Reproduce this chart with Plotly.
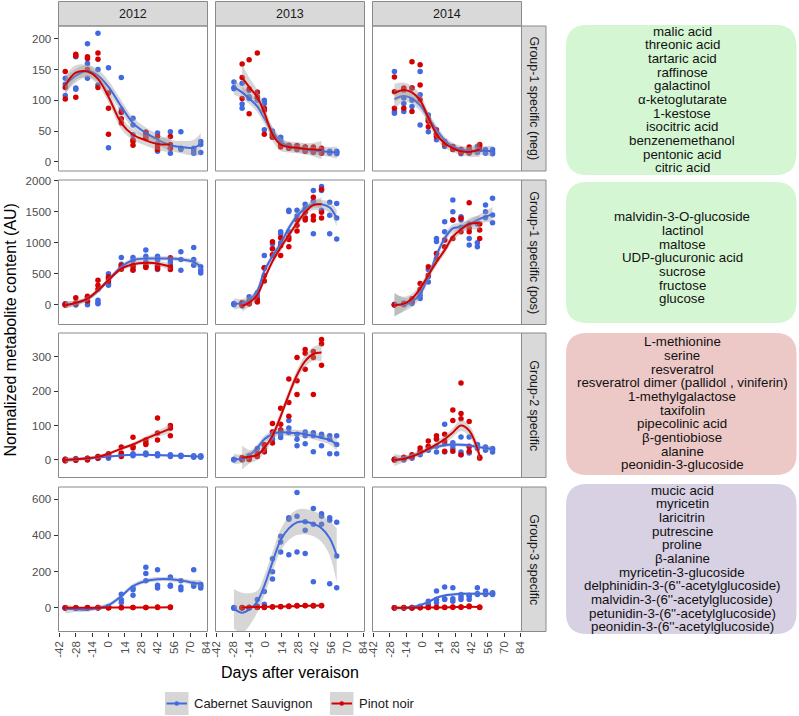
import plotly.graph_objects as go

W, H = 799, 716

# ---------------- data ----------------
years = ["2012", "2013", "2014"]
groups = ["Group-1 specific (neg)", "Group-1 specific (pos)", "Group-2 specific", "Group-3 specific"]
x_ticks = [-42, -28, -14, 0, 14, 28, 42, 56, 70, 84]
y_ticks = [[0, 50, 100, 150, 200], [0, 500, 1000, 1500, 2000], [0, 100, 200, 300], [0, 200, 400, 600]]
y_ranges = [[-15, 221], [-320, 2010], [-51, 369], [-130, 667]]

cs_days_2012 = [-37, -28, -18, -9, 0, 11, 21, 32, 42, 53, 62, 73, 79]
cs_days_2013 = [-27, -20, -14, -7, -1, 6, 13, 20, 27, 34, 41, 48, 55, 61]
cs_days_2014 = [-24, -16, -9, -2, 5, 12, 19, 26, 33, 40, 47, 54, 60]
pn_days_2012 = [-37, -28, -18, -9, 0, 11, 21, 32, 42, 53]
pn_days_2013 = [-20, -14, -7, -1, 6, 13, 20, 27, 34, 41, 48]
pn_days_2014 = [-24, -16, -9, -2, 5, 12, 19, 26, 33, 40, 49]

# Group-1 specific (neg)
cs_neg_2012 = [[136,126,108],[120,118,171],[192,160,136],[209,125,150],[153,112,23],[137,85,80],[71,44,60],[48,41,45],[47,30,17],[49,22,14],[49,20,22],[18,14,22],[33,28,15]]
pn_neg_2012 = [[147,121,102],[175,172,105],[171,168,150],[177,167,121],[87,45,112],[63,81,70],[36,27,33],[48,41,38],[41,25,20],[41,22,28]]
cs_neg_2012_fit = [125,140,148,140,122,90,63,47,36,27,24,23,29]
pn_neg_2012_fit = [125,145,147,135,106,63,44,35,29,28]
cs_neg_2012_se = [14,11,10,10,10,10,9,9,9,9,10,13,18]
pn_neg_2012_se = [16,12,10,10,10,10,9,9,10,13]

cs_neg_2013 = [[130,121,119],[128,94,87],[116,106,103],[113,106,100],[100,52,95],[46,40,50],[40,33,36],[26,22,24],[26,20,22],[24,17,20],[22,15,18],[20,14,17],[17,14,15],[17,13,15]]
pn_neg_2013 = [[159,137,103],[166,119,78],[177,113,105],[84,45,87],[43,40,45],[27,24,26],[27,22,24],[26,20,22],[24,17,20],[24,16,20],[22,14,18]]
cs_neg_2013_fit = [121,113,103,90,71,49,33,25,22,20,18,17,16,15]
pn_neg_2013_fit = [137,122,105,80,45,28,24,23,21,20,19]
cs_neg_2013_se = [12,10,9,9,9,8,7,6,6,6,6,7,8,10]
pn_neg_2013_se = [22,15,12,12,11,10,9,9,9,11,15]

cs_neg_2014 = [[147,82,79],[104,82,95],[120,90,100],[147,109,60],[76,49,68],[41,36,45],[25,30,28],[22,20,25],[20,13,17],[17,14,20],[25,17,15],[20,14,17],[20,13,16]]
pn_neg_2014 = [[138,87,114],[117,87,120],[163,120,82],[158,125,101],[66,57,70],[52,41,45],[33,28,30],[25,22,20],[20,17,15],[18,15,24],[28,25,20]]
cs_neg_2014_fit = [102,107,103,92,72,52,35,25,20,18,18,18,17]
pn_neg_2014_fit = [112,117,113,100,72,45,30,22,17,16,20]
cs_neg_2014_se = [15,10,9,9,8,7,6,6,6,6,6,7,9]
pn_neg_2014_se = [15,12,10,10,9,8,7,6,6,8,12]

# Group-1 specific (pos)
cs_pos_2012 = [[16,5,-5],[10,-5,20],[43,0,60],[70,16,30],[500,340,313],[760,610,650],[760,717,566],[880,782,690],[782,717,566],[690,740,650],[852,728,555],[922,728,636],[610,555,512]]
pn_pos_2012 = [[0,10,-5],[113,16,30],[135,120,60],[313,394,250],[420,380,450],[636,600,570],[636,555,610],[636,610,600],[610,580,620],[755,610,566]]
cs_pos_2012_fit = [0,20,90,220,400,610,717,744,744,744,730,690,610]
pn_pos_2012_fit = [-10,30,97,232,394,582,652,674,663,610]
cs_pos_2012_se = [55,40,35,35,35,35,35,35,35,35,35,45,65]
pn_pos_2012_se = [55,40,35,35,35,35,35,35,40,55]

cs_pos_2013 = [[20,0,10],[20,-20,30],[30,127,20],[190,140,60],[590,793,600],[983,793,900],[1174,1142,1000],[1504,1523,1174],[1523,1428,1365],[1618,1555,1396],[1840,1669,1142],[1904,1840,1523],[1650,1440,1142],[1631,1396,1060]]
pn_pos_2013 = [[20,-10,30],[40,10,60],[63,82,44],[590,380,470],[1015,806,900],[793,1079,950],[933,1091,1050],[1187,1364,1280],[1491,1364,1396],[1732,1364,1428],[1859,1396,1491]]
cs_pos_2013_fit = [10,25,70,222,540,780,983,1237,1428,1555,1618,1618,1567,1396]
pn_pos_2013_fit = [-20,32,159,412,698,920,1123,1313,1491,1605,1618]
cs_pos_2013_se = [90,70,60,55,55,55,55,55,55,55,60,70,90,130]
pn_pos_2013_se = [90,70,60,55,55,55,55,55,60,80,110]

cs_pos_2014 = [[5,-5,0],[27,0,10],[43,70,20],[205,100,150],[566,367,450],[825,1068,1020],[1338,1176,1041],[1688,1500,1365],[1419,1365,1250],[1068,960,1300],[1000,933,1300],[1607,1500,1400],[1715,1446,1322]]
pn_pos_2014 = [[-5,0],[16,5],[97,60],[340,250],[475,610],[744,825],[933,1041],[1365,1068],[1392,1176],[1645,1176,1230],[1203,1068,1300]]
cs_pos_2014_fit = [5,0,43,178,448,798,1068,1230,1257,1300,1365,1419,1456]
pn_pos_2014_fit = [-10,16,97,259,475,690,879,1095,1214,1300,1321]
cs_pos_2014_se = [190,110,80,70,65,65,65,65,65,65,70,90,120]
pn_pos_2014_se = [180,110,80,70,65,65,65,65,70,90,120]

# Group-2 specific
cs_g2_2012 = [[0,2,-2],[2,0,4],[5,3,2],[8,5,10],[10,5,15],[15,12,18],[15,18,12],[20,15,18],[18,15,12],[12,15,10],[12,10,14],[10,12,8],[8,10,12]]
pn_g2_2012 = [[0,-2,2],[0,2,-1],[3,5,0],[8,5,10],[15,18,12],[38,20,10],[66,35,40],[45,58,50],[122,58,78],[100,92,70]]
cs_g2_2012_fit = [0,2,4,7,10,13,15,15,14,13,12,11,10]
pn_g2_2012_fit = [0,2,5,9,18,33,45,62,76,91]
cs_g2_2012_se = [5,4,3,3,3,3,3,3,3,3,3,4,5]
pn_g2_2012_se = [8,6,5,5,5,5,6,7,9,13]

cs_g2_2013 = [[1,0,2],[2,0,3],[13,8,5],[33,20,10],[41,24,30],[70,81,60],[87,75,65],[115,93,80],[75,41,60],[81,47,70],[79,24,70],[70,75,41],[70,18,60],[70,18,45]]
pn_g2_2013 = [[7,4,2],[1,6,3],[13,18,10],[45,30,24],[106,81,49],[150,104,87],[235,167,127],[298,230,190],[321,310,264],[315,298,190],[350,338,275]]
cs_g2_2013_fit = [3,3,13,35,60,75,81,79,78,75,70,64,58,45]
pn_g2_2013_fit = [7,9,15,35,70,127,190,247,287,308,312]
cs_g2_2013_se = [15,12,10,10,10,10,10,10,10,10,10,11,13,18]
pn_g2_2013_se = [35,20,15,14,14,14,14,15,17,20,25]

cs_g2_2014 = [[1,0,2],[3,5,0],[7,12,5],[23,15,20],[38,28,30],[62,23,40],[104,47,23],[42,33,50],[67,23,15],[67,38,20],[42,33,45],[38,28,35],[33,23,30]]
pn_g2_2014 = [[2,0],[5,8],[10,15],[25,35],[40,55],[60,70],[75,55,25],[145,115,25],[224,135,120,15],[112,25,40],[8,5]]
cs_g2_2014_fit = [0,5,12,20,30,38,43,45,44,42,38,35,32]
pn_g2_2014_fit = [0,3,10,20,32,45,60,80,100,85,12]
cs_g2_2014_se = [10,6,5,5,5,5,5,5,5,5,5,6,8]
pn_g2_2014_se = [18,10,8,8,8,9,11,13,16,16,20]

# Group-3 specific
cs_g3_2012 = [[0,1,-1],[0,-1,1],[0,1,2],[0,2,1],[5,2,8],[75,45,30],[110,70,100],[225,190,150],[210,125,110],[170,125,120],[150,115,100],[210,130,120],[130,110,120]]
pn_g3_2012 = [[0,1],[0,1],[0,1],[1,2],[2,0],[3,1],[3,2],[3,2],[5,3],[5,3]]
cs_g3_2012_fit = [-5,-8,-9,0,15,65,121,149,158,158,152,139,134]
pn_g3_2012_fit = [1,1,1,1,2,2,2,3,3,4]
cs_g3_2012_se = [25,15,12,12,12,12,12,12,12,12,12,15,20]
pn_g3_2012_se = [4,3,3,3,3,3,3,3,3,4]

cs_g3_2013 = [[2,0,-2],[2,0,1],[2,4,0],[46,10,5],[90,20,5],[271,199,160],[395,363,308],[498,489,293],[636,505,308],[476,428,300],[548,461,144],[520,505,461],[498,483,133],[472,286,111]]
pn_g3_2013 = [[0,2],[1,3],[2,4],[3,5],[5,7],[6,8],[8,10],[10,13],[12,14],[11,13],[12,14]]
cs_g3_2013_fit = [-5,-26,-9,35,122,253,374,439,472,476,465,439,384,290]
pn_g3_2013_fit = [3,4,5,6,7,8,9,10,11,12,13]
cs_g3_2013_se = [110,110,90,60,55,55,60,65,70,70,70,75,95,150]
pn_g3_2013_se = [8,6,5,5,5,5,5,5,5,6,8]

cs_g3_2014 = [[0,1,-1],[0,1,2],[0,2,1],[9,5,3],[37,20,10],[93,46,28],[115,46,50],[111,37,50],[74,46,60],[65,46,70],[111,74,80],[93,74,80],[84,74,80]]
pn_g3_2014 = [[0,1],[0,1],[0,2],[1,2],[2,3],[2,4],[3,4],[4,5],[5,4],[10,6],[5,3]]
cs_g3_2014_fit = [0,0,5,15,33,56,69,74,78,78,78,78,80]
pn_g3_2014_fit = [1,1,1,2,2,3,3,4,5,6,5]
cs_g3_2014_se = [15,10,8,8,8,8,8,8,8,8,8,9,12]
pn_g3_2014_se = [4,3,3,3,3,3,3,3,3,4,5]

box_lists = [
    ["malic acid", "threonic acid", "tartaric acid", "raffinose", "galactinol", "α-ketoglutarate",
     "1-kestose", "isocitric acid", "benzenemethanol", "pentonic acid", "citric acid"],
    ["malvidin-3-O-glucoside", "lactinol", "maltose", "UDP-glucuronic acid", "sucrose", "fructose", "glucose"],
    ["L-methionine", "serine", "resveratrol", "resveratrol dimer (pallidol , viniferin)", "1-methylgalactose",
     "taxifolin", "pipecolinic acid", "β-gentiobiose", "alanine", "peonidin-3-glucoside"],
    ["mucic acid", "myricetin", "laricitrin", "putrescine", "proline", "β-alanine", "myricetin-3-glucoside",
     "delphinidin-3-(6''-acetylglucoside)", "malvidin-3-(6''-acetylglucoside)",
     "petunidin-3-(6''-acetylglucoside)", "peonidin-3-(6''-acetylglucoside)"],
]
legend_names = ["Cabernet Sauvignon", "Pinot noir"]

# ---------------- styling / layout ----------------
BLUE = "#4169E1"
RED = "#D60000"
RIB = "rgba(153,153,153,0.4)"
FONT = "Liberation Sans, Arial, sans-serif"
BORDER = "#8A8A8A"
STRIP = "#D9D9D9"

col_px = [(58.5, 207.5), (215.5, 364.5), (372.5, 521.5)]
row_px = [(26, 171), (180, 324.5), (333, 477.5), (487, 631.5)]
box_px = [(25, 175), (182, 323), (333, 475), (484, 634)]
box_fill = ["#D5F6D3", "#D5F6D3", "#ECC8C7", "#D8D0E3"]
box_first = [31, 216.7, 341.7, 490]
LINE_STEP = 13.67


def X(x):
    return x / W


def Y(y):
    return 1 - y / H


panels = {
    (0, 0): (cs_days_2012, cs_neg_2012, cs_neg_2012_fit, cs_neg_2012_se, pn_days_2012, pn_neg_2012, pn_neg_2012_fit, pn_neg_2012_se),
    (0, 1): (cs_days_2013, cs_neg_2013, cs_neg_2013_fit, cs_neg_2013_se, pn_days_2013, pn_neg_2013, pn_neg_2013_fit, pn_neg_2013_se),
    (0, 2): (cs_days_2014, cs_neg_2014, cs_neg_2014_fit, cs_neg_2014_se, pn_days_2014, pn_neg_2014, pn_neg_2014_fit, pn_neg_2014_se),
    (1, 0): (cs_days_2012, cs_pos_2012, cs_pos_2012_fit, cs_pos_2012_se, pn_days_2012, pn_pos_2012, pn_pos_2012_fit, pn_pos_2012_se),
    (1, 1): (cs_days_2013, cs_pos_2013, cs_pos_2013_fit, cs_pos_2013_se, pn_days_2013, pn_pos_2013, pn_pos_2013_fit, pn_pos_2013_se),
    (1, 2): (cs_days_2014, cs_pos_2014, cs_pos_2014_fit, cs_pos_2014_se, pn_days_2014, pn_pos_2014, pn_pos_2014_fit, pn_pos_2014_se),
    (2, 0): (cs_days_2012, cs_g2_2012, cs_g2_2012_fit, cs_g2_2012_se, pn_days_2012, pn_g2_2012, pn_g2_2012_fit, pn_g2_2012_se),
    (2, 1): (cs_days_2013, cs_g2_2013, cs_g2_2013_fit, cs_g2_2013_se, pn_days_2013, pn_g2_2013, pn_g2_2013_fit, pn_g2_2013_se),
    (2, 2): (cs_days_2014, cs_g2_2014, cs_g2_2014_fit, cs_g2_2014_se, pn_days_2014, pn_g2_2014, pn_g2_2014_fit, pn_g2_2014_se),
    (3, 0): (cs_days_2012, cs_g3_2012, cs_g3_2012_fit, cs_g3_2012_se, pn_days_2012, pn_g3_2012, pn_g3_2012_fit, pn_g3_2012_se),
    (3, 1): (cs_days_2013, cs_g3_2013, cs_g3_2013_fit, cs_g3_2013_se, pn_days_2013, pn_g3_2013, pn_g3_2013_fit, pn_g3_2013_se),
    (3, 2): (cs_days_2014, cs_g3_2014, cs_g3_2014_fit, cs_g3_2014_se, pn_days_2014, pn_g3_2014, pn_g3_2014_fit, pn_g3_2014_se),
}

fig = go.Figure()
layout = dict(
    template="none",
    width=W, height=H, margin=dict(l=0, r=0, t=0, b=0, pad=0, autoexpand=False),
    paper_bgcolor="white", plot_bgcolor="white", showlegend=False,
    font=dict(family=FONT),
)
shapes = []
annotations = []

for r in range(4):
    for c in range(3):
        k = r * 3 + c + 1
        s = "" if k == 1 else str(k)
        xa, ya = "x" + s, "y" + s
        cd, cp, cf, cse, pd_, pp, pf, pse = panels[(r, c)]
        # points
        for days, pts, color in [(cd, cp, BLUE), (pd_, pp, RED)]:
            xs = [d for d, vals in zip(days, pts) for _ in vals]
            ys = [v for vals in pts for v in vals]
            fig.add_trace(go.Scatter(x=xs, y=ys, mode="markers", xaxis=xa, yaxis=ya,
                                     marker=dict(color=color, size=5.5, line=dict(width=0)),
                                     hoverinfo="skip", showlegend=False))
        # smooth ribbons and lines
        for days, fit, se, color in [(cd, cf, cse, BLUE), (pd_, pf, pse, RED)]:
            lo = [f - e for f, e in zip(fit, se)]
            hi = [f + e for f, e in zip(fit, se)]
            fig.add_trace(go.Scatter(x=days, y=lo, mode="lines", xaxis=xa, yaxis=ya,
                                     line=dict(width=0, shape="spline", color=RIB),
                                     hoverinfo="skip", showlegend=False))
            fig.add_trace(go.Scatter(x=days, y=hi, mode="lines", xaxis=xa, yaxis=ya,
                                     line=dict(width=0, shape="spline", color=RIB),
                                     fill="tonexty", fillcolor=RIB,
                                     hoverinfo="skip", showlegend=False))
            fig.add_trace(go.Scatter(x=days, y=fit, mode="lines", xaxis=xa, yaxis=ya,
                                     line=dict(width=2, shape="spline", color=color),
                                     hoverinfo="skip", showlegend=False))
        x0, x1 = col_px[c]
        y0, y1 = row_px[r]
        layout["xaxis" + s] = dict(
            domain=[X(x0), X(x1)], range=[-42.8, 84.8], anchor=ya, automargin=False,
            tickmode="array", tickvals=x_ticks, ticktext=[str(t) for t in x_ticks],
            showticklabels=(r == 3), ticks="outside" if r == 3 else "",
            ticklen=4, tickwidth=1, tickcolor="#333333", tickangle=-90,
            tickfont=dict(size=11.5, color="#4D4D4D", family=FONT),
            showgrid=False, zeroline=False, showline=False, fixedrange=True,
        )
        layout["yaxis" + s] = dict(
            domain=[Y(y1), Y(y0)], range=y_ranges[r], anchor=xa, automargin=False,
            tickmode="array", tickvals=y_ticks[r],
            showticklabels=(c == 0), ticks="outside" if c == 0 else "",
            ticklen=4, tickwidth=1, tickcolor="#333333",
            tickfont=dict(size=11.5, color="#4D4D4D", family=FONT),
            showgrid=False, zeroline=False, showline=False, fixedrange=True,
        )
        shapes.append(dict(type="rect", xref="paper", yref="paper",
                           x0=X(x0), x1=X(x1), y0=Y(y1), y1=Y(y0),
                           line=dict(color=BORDER, width=1), fillcolor="rgba(0,0,0,0)", layer="above"))

# top strips
for c in range(3):
    x0, x1 = col_px[c]
    shapes.append(dict(type="rect", xref="paper", yref="paper", x0=X(x0), x1=X(x1), y0=Y(26), y1=Y(1.5),
                       line=dict(color=BORDER, width=1), fillcolor=STRIP, layer="below"))
    annotations.append(dict(text=years[c], x=X((x0 + x1) / 2), y=Y(13.8), xref="paper", yref="paper",
                            showarrow=False, xanchor="center", yanchor="middle",
                            font=dict(size=12.5, color="#1A1A1A", family=FONT)))
# right strips
for r in range(4):
    y0, y1 = row_px[r]
    shapes.append(dict(type="rect", xref="paper", yref="paper", x0=X(521.5), x1=X(546), y0=Y(y1), y1=Y(y0),
                       line=dict(color=BORDER, width=1), fillcolor=STRIP, layer="below"))
    annotations.append(dict(text=groups[r], x=X(534), y=Y((y0 + y1) / 2), xref="paper", yref="paper",
                            showarrow=False, xanchor="center", yanchor="middle", textangle=90,
                            font=dict(size=12.5, color="#1A1A1A", family=FONT)))

# axis titles
annotations.append(dict(text="Normalized metabolite content (AU)", x=X(9.5), y=Y(330), xref="paper", yref="paper",
                        showarrow=False, xanchor="center", yanchor="middle", textangle=-90,
                        font=dict(size=16, color="black", family=FONT)))
annotations.append(dict(text="Days after veraison", x=X(290), y=Y(672), xref="paper", yref="paper",
                        showarrow=False, xanchor="center", yanchor="middle",
                        font=dict(size=16, color="black", family=FONT)))


# side boxes with metabolite names
def rrect(x0, y0, x1, y1, rad):
    return (f"M {X(x0 + rad)},{Y(y0)} L {X(x1 - rad)},{Y(y0)} Q {X(x1)},{Y(y0)} {X(x1)},{Y(y0 + rad)} "
            f"L {X(x1)},{Y(y1 - rad)} Q {X(x1)},{Y(y1)} {X(x1 - rad)},{Y(y1)} "
            f"L {X(x0 + rad)},{Y(y1)} Q {X(x0)},{Y(y1)} {X(x0)},{Y(y1 - rad)} "
            f"L {X(x0)},{Y(y0 + rad)} Q {X(x0)},{Y(y0)} {X(x0 + rad)},{Y(y0)} Z")


for b in range(4):
    by0, by1 = box_px[b]
    shapes.append(dict(type="path", xref="paper", yref="paper", path=rrect(566, by0, 796.5, by1, 21),
                       fillcolor=box_fill[b], line=dict(width=0), layer="below"))
    for i, name in enumerate(box_lists[b]):
        annotations.append(dict(text=name, x=X(682), y=Y(box_first[b] + i * LINE_STEP), xref="paper", yref="paper",
                                showarrow=False, xanchor="center", yanchor="middle",
                                font=dict(size=13.3, color="#111111", family=FONT)))

# legend (drawn manually)
leg_keys = [(165, BLUE), (330, RED)]
leg_text_x = [192, 357]
for (kx, color), tx, name in zip(leg_keys, leg_text_x, legend_names):
    shapes.append(dict(type="rect", xref="paper", yref="paper", x0=X(kx), x1=X(kx + 23.5), y0=Y(715), y1=Y(692),
                       fillcolor="#D6D6D6", line=dict(width=0)))
    shapes.append(dict(type="line", xref="paper", yref="paper", x0=X(kx + 1.5), x1=X(kx + 22), y0=Y(703.5), y1=Y(703.5),
                       line=dict(color=color, width=2)))
    shapes.append(dict(type="circle", xref="paper", yref="paper", x0=X(kx + 9.5), x1=X(kx + 14),
                       y0=Y(705.8), y1=Y(701.2), fillcolor=color, line=dict(width=0)))
    annotations.append(dict(text=name, x=X(tx), y=Y(703.5), xref="paper", yref="paper",
                            showarrow=False, xanchor="left", yanchor="middle",
                            font=dict(size=13, color="#1A1A1A", family=FONT)))

layout["shapes"] = shapes
layout["annotations"] = annotations
fig.update_layout(**layout)
fig.write_html(
    "out.html",
    config={"displayModeBar": False, "staticPlot": True},
    post_script="document.body.style.margin='0';document.body.style.padding='0';"
                "document.documentElement.style.overflow='hidden';",
)
